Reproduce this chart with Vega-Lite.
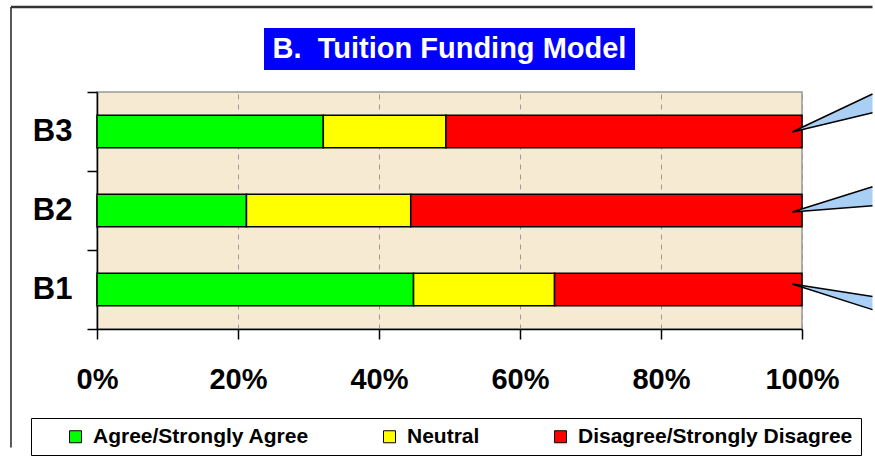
{
  "$schema": "https://vega.github.io/schema/vega-lite/v6.json",
  "background": "white",
  "autosize": {"type": "pad"},
  "padding": {"left": 8, "top": 4, "right": 4, "bottom": 3},
  "bounds": "flush",
  "center": true,
  "spacing": 22,
  "config": {"font": "Liberation Sans", "view": {"stroke": null}},
  "resolve": {"legend": {"color": "independent"}},
  "vconcat": [
    {
      "width": 371,
      "height": 42,
      "view": {"fill": "#0000ff", "stroke": null},
      "data": {"values": [{"title": "B.\u00a0 Tuition Funding Model"}]},
      "mark": {"type": "text", "color": "white", "fontSize": 29, "fontWeight": "bold", "align": "center", "baseline": "middle", "font": "Liberation Sans"},
      "encoding": {"text": {"field": "title", "type": "nominal"}}
    },
    {
      "width": 705,
      "height": 237,
      "view": {"fill": "#f7ead3", "stroke": "#999999", "strokeWidth": 1.5},
      "resolve": {"scale": {"y": "independent"}, "axis": {"y": "independent"}},
      "layer": [
        {
          "data": {"values": [
            {"q": "B3", "response": "Agree/Strongly Agree", "ord": 1, "pct": 32.1},
            {"q": "B3", "response": "Neutral", "ord": 2, "pct": 17.4},
            {"q": "B3", "response": "Disagree/Strongly Disagree", "ord": 3, "pct": 50.5},
            {"q": "B2", "response": "Agree/Strongly Agree", "ord": 1, "pct": 21.2},
            {"q": "B2", "response": "Neutral", "ord": 2, "pct": 23.3},
            {"q": "B2", "response": "Disagree/Strongly Disagree", "ord": 3, "pct": 55.5},
            {"q": "B1", "response": "Agree/Strongly Agree", "ord": 1, "pct": 44.9},
            {"q": "B1", "response": "Neutral", "ord": 2, "pct": 20.0},
            {"q": "B1", "response": "Disagree/Strongly Disagree", "ord": 3, "pct": 35.1}
          ]},
          "mark": {"type": "bar", "stroke": "black", "strokeWidth": 1.5, "height": {"band": 0.41}},
          "encoding": {
            "y": {
              "field": "q", "type": "nominal", "sort": ["B3", "B2", "B1"],
              "scale": {"paddingInner": 0, "paddingOuter": 0},
              "axis": {"title": null, "ticks": false, "domain": false, "labelFontSize": 31, "labelFontWeight": "bold", "labelColor": "black", "labelPadding": 25, "labelFont": "Liberation Sans"}
            },
            "x": {
              "field": "pct", "type": "quantitative", "stack": "normalize",
              "scale": {"domain": [0, 1]},
              "axis": {"title": null, "values": [0, 0.2, 0.4, 0.6, 0.8, 1], "format": ".0%", "labelFontSize": 29, "labelFontWeight": "bold", "labelColor": "black", "labelFont": "Liberation Sans", "labelPadding": 26, "labelFlush": false, "tickSize": 10, "tickColor": "black", "tickWidth": 1.5, "domainColor": "black", "domainWidth": 1.5, "grid": true, "gridDash": [5, 5], "gridColor": "#9a9a9a", "gridWidth": 1}
            },
            "color": {
              "field": "response", "type": "nominal",
              "scale": {"domain": ["Agree/Strongly Agree", "Neutral", "Disagree/Strongly Disagree"], "range": ["#00ff00", "#ffff00", "#ff0000"]},
              "legend": {"title": " ", "titleOrient": "left", "titlePadding": 26, "titleFontSize": 21, "orient": "none", "legendX": -66, "legendY": 326, "direction": "horizontal", "symbolType": "square", "symbolSize": 144, "symbolStrokeColor": "black", "symbolStrokeWidth": 1, "labelFontSize": 21, "labelFontWeight": "bold", "labelColor": "black", "labelFont": "Liberation Sans", "labelLimit": 0, "labelOffset": 7, "columnPadding": 70, "strokeColor": "black", "padding": 8, "cornerRadius": 0}
            },
            "order": {"field": "ord", "type": "quantitative"}
          }
        },
        {
          "layer": [
            {
              "data": {"values": [
                {"q": "B3", "x": 0.986, "lo": 2.494, "hi": 2.494},
                {"q": "B3", "x": 1.1, "lo": 2.737, "hi": 2.975},
                {"q": "B2", "x": 0.986, "lo": 1.481, "hi": 1.481},
                {"q": "B2", "x": 1.1, "lo": 1.56, "hi": 1.8},
                {"q": "B1", "x": 0.986, "lo": 0.57, "hi": 0.57},
                {"q": "B1", "x": 1.1, "lo": 0.245, "hi": 0.41}
              ]},
              "mark": {"type": "area", "fill": "#a9cff5", "clip": false, "orient": "vertical"},
              "encoding": {
                "x": {"field": "x", "type": "quantitative"},
                "y": {
                  "field": "lo", "type": "quantitative",
                  "scale": {"domain": [0, 3], "nice": false, "zero": false},
                  "axis": {"orient": "left", "values": [0, 1, 2, 3], "labels": false, "title": null, "tickSize": 10, "tickColor": "black", "tickWidth": 1.5, "domainColor": "black", "domainWidth": 1.5, "grid": false}
                },
                "y2": {"field": "hi"},
                "detail": {"field": "q", "type": "nominal"}
              }
            },
            {
              "data": {"values": [
                {"q": "B3", "s": 1, "x": 1.1, "y": 2.975},
                {"q": "B3", "s": 2, "x": 0.986, "y": 2.494},
                {"q": "B3", "s": 3, "x": 1.1, "y": 2.737},
                {"q": "B2", "s": 1, "x": 1.1, "y": 1.8},
                {"q": "B2", "s": 2, "x": 0.986, "y": 1.481},
                {"q": "B2", "s": 3, "x": 1.1, "y": 1.56},
                {"q": "B1", "s": 1, "x": 1.1, "y": 0.41},
                {"q": "B1", "s": 2, "x": 0.986, "y": 0.57},
                {"q": "B1", "s": 3, "x": 1.1, "y": 0.245}
              ]},
              "mark": {"type": "line", "color": "black", "strokeWidth": 1.5, "clip": false},
              "encoding": {
                "x": {"field": "x", "type": "quantitative"},
                "y": {"field": "y", "type": "quantitative"},
                "order": {"field": "s", "type": "quantitative"},
                "detail": {"field": "q", "type": "nominal"}
              }
            },
            {
              "data": {"values": [{"frame": "left"}]},
              "mark": {"type": "rule", "color": "#222222", "strokeWidth": 1.5, "clip": false},
              "encoding": {
                "x": {"datum": -0.122, "type": "quantitative"},
                "y": {"datum": 4.076, "type": "quantitative"},
                "y2": {"datum": -1.5}
              }
            },
            {
              "data": {"values": [{"frame": "top"}]},
              "mark": {"type": "rule", "color": "#333333", "strokeWidth": 2.5, "clip": false},
              "encoding": {
                "x": {"datum": -0.122, "type": "quantitative"},
                "x2": {"datum": 1.1},
                "y": {"datum": 4.076, "type": "quantitative"}
              }
            }
          ]
        }
      ]
    }
  ]
}
